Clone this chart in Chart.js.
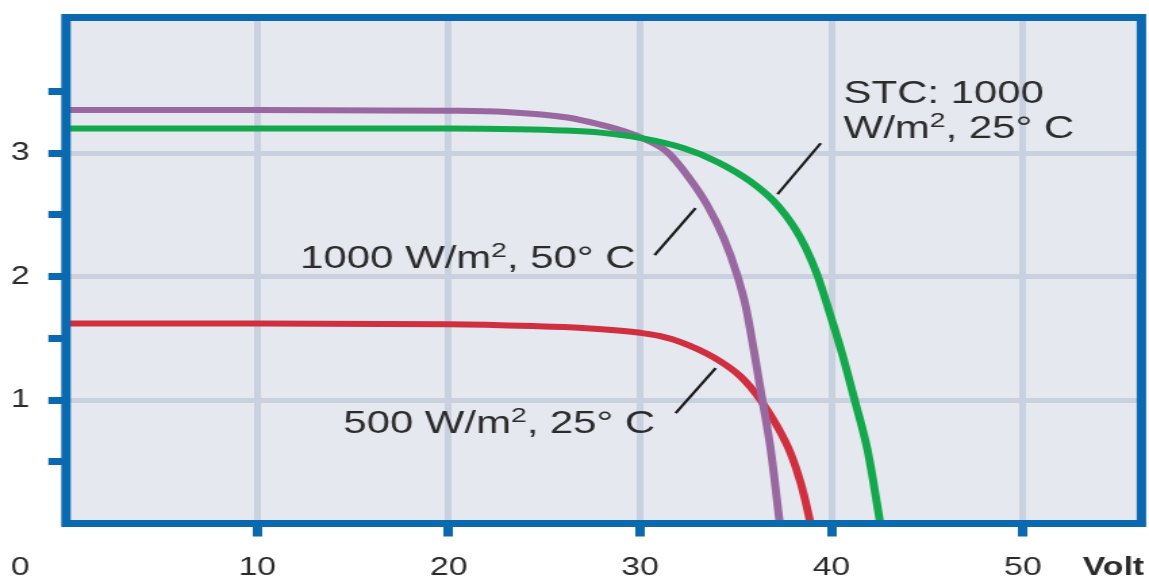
<!DOCTYPE html>
<html>
<head>
<meta charset="utf-8">
<script src="https://cdn.jsdelivr.net/npm/chart.js@4.4.0/dist/chart.umd.min.js"></script>
<style>
  html, body { margin: 0; padding: 0; background: #fff; }
  /* the source picture is stretched sideways, so the canvas is drawn narrow and stretched by css */
  #iv { display: block; width: 1149px; height: 577px; }
</style>
</head>
<body>
<canvas id="iv" width="850" height="577" style="width:1149px;height:577px"></canvas>
<script>
// voltage (V) and current (A)
var stcV  = [0, 10, 20, 23.6, 26, 27.93, 30, 32.29, 34.04, 35.78, 37.18, 38.4, 39.27, 39.9, 40.55, 41.18, 41.88, 42.2, 42.55];
var stcI  = [3.2, 3.2, 3.2, 3.195, 3.185, 3.167, 3.124, 3.04, 2.93, 2.77, 2.58, 2.31, 2.01, 1.71, 1.38, 1.02, 0.6, 0.33, 0];
var hotV  = [0, 10, 20, 23, 26.2, 27.93, 29, 30, 31.42, 32.47, 33.51, 34.38, 35.08, 35.52, 35.95, 36.39, 36.83, 37.3];
var hotI  = [3.35, 3.35, 3.345, 3.335, 3.29, 3.232, 3.186, 3.13, 3.01, 2.82, 2.58, 2.31, 2.01, 1.76, 1.4, 1.0, 0.595, 0];
var halfV = [0, 10, 20, 24.4, 27, 29, 30, 31, 32.12, 33.86, 35.26, 36.3, 37.18, 37.87, 38.4, 38.83, 38.9];
var halfI = [1.62, 1.62, 1.615, 1.6, 1.585, 1.562, 1.545, 1.52, 1.47, 1.345, 1.19, 1.0, 0.784, 0.568, 0.326, 0.055, 0];

var xTicks = [10, 20, 30, 40, 50];
var yTicks = [0.5, 1, 1.5, 2, 2.5, 3, 3.5];
var xLabelOrigin = '0';
var xUnit = 'Volt';

var blue = '#0b69b0';
var plotBg = '#e5e8ef';
var gridCol = '#c9d1df';
var textCol = '#2b2b2b';
var font = "'Liberation Sans', Arial, Helvetica, sans-serif";

function pts(v, i) {
  return v.map(function (x, k) { return {x: x, y: i[k]}; });
}

// callout texts, placed in data units; sup = superscript
var notes = [
  {x: 40.64, y: 3.405, parts: [{t: 'STC: 1000'}]},
  {x: 40.64, y: 3.12, parts: [{t: 'W/m'}, {t: '2', sup: true}, {t: ', 25° C'}]},
  {x: 12.24, y: 2.069, parts: [{t: '1000 W/m'}, {t: '2', sup: true}, {t: ', 50° C'}]},
  {x: 14.49, y: 0.733, parts: [{t: '500 W/m'}, {t: '2', sup: true}, {t: ', 25° C'}]}
];
var leaders = [
  [39.44, 3.081, 37.18, 2.668],
  [32.9, 2.555, 30.76, 2.174],
  [33.95, 1.259, 31.86, 0.895]
];

function drawRich(ctx, parts, x, y) {
  var cx = x;
  parts.forEach(function (p) {
    if (p.sup) {
      ctx.font = '21px ' + font;
      ctx.fillText(p.t, cx, y - 11);
    } else {
      ctx.font = '31px ' + font;
      ctx.fillText(p.t, cx, y);
    }
    cx += ctx.measureText(p.t).width;
  });
}

var framePlugin = {
  id: 'frame',
  beforeDraw: function (chart) {
    var ctx = chart.ctx, a = chart.chartArea;
    ctx.save();
    ctx.fillStyle = '#fff';
    ctx.fillRect(0, 0, chart.width, chart.height);
    ctx.fillStyle = plotBg;
    ctx.fillRect(a.left, a.top, a.right - a.left, a.bottom - a.top);
    ctx.restore();
  },
  afterDatasetsDraw: function (chart) {
    var ctx = chart.ctx, a = chart.chartArea;
    ctx.save();
    ctx.strokeStyle = blue;
    ctx.lineWidth = 7;
    ctx.strokeRect(a.left, a.top, a.right - a.left, a.bottom - a.top);
    ctx.restore();
  },
  afterDraw: function (chart) {
    var ctx = chart.ctx, xs = chart.scales.x, ys = chart.scales.y;
    ctx.save();
    ctx.fillStyle = textCol;
    ctx.textBaseline = 'alphabetic';
    ctx.textAlign = 'left';
    notes.forEach(function (n) {
      drawRich(ctx, n.parts, xs.getPixelForValue(n.x), ys.getPixelForValue(n.y));
    });
    ctx.strokeStyle = '#1a1a1a';
    ctx.lineWidth = 2.2;
    leaders.forEach(function (l) {
      ctx.beginPath();
      ctx.moveTo(xs.getPixelForValue(l[0]), ys.getPixelForValue(l[1]));
      ctx.lineTo(xs.getPixelForValue(l[2]), ys.getPixelForValue(l[3]));
      ctx.stroke();
    });
    // origin label and unit on the tick label row
    ctx.font = '25px ' + font;
    ctx.textAlign = 'center';
    ctx.fillText(xLabelOrigin, 15, 575);
    ctx.font = 'bold 25px ' + font;
    ctx.textAlign = 'right';
    ctx.fillText(xUnit, chart.chartArea.right + 2, 575);
    ctx.restore();
  }
};

function noPad(s) {
  s.paddingTop = 0; s.paddingBottom = 0; s.paddingLeft = 0; s.paddingRight = 0;
}

var ctx = document.getElementById('iv').getContext('2d');
var myChart = new Chart(ctx, {
  type: 'line',
  data: {
    datasets: [
      {label: 'STC: 1000 W/m², 25° C', data: pts(stcV, stcI), borderColor: '#13a84b'},
      {label: '1000 W/m², 50° C', data: pts(hotV, hotI), borderColor: '#9a68a0'},
      {label: '500 W/m², 25° C', data: pts(halfV, halfI), borderColor: '#cf2f3f'}
    ]
  },
  options: {
    responsive: false,
    animation: false,
    devicePixelRatio: 1,
    layout: {padding: {top: 17.5, right: 5.6, left: 0, bottom: 0}},
    elements: {
      point: {radius: 0},
      line: {borderWidth: 6, cubicInterpolationMode: 'monotone', capBezierPoints: true}
    },
    plugins: {legend: {display: false}, tooltip: {enabled: false}},
    scales: {
      x: {
        type: 'linear',
        min: 0,
        max: 56.2,
        afterBuildTicks: function (s) { s.ticks = xTicks.map(function (v) { return {value: v}; }); },
        afterFit: function (s) { s.height = 53.5; noPad(s); },
        border: {display: false},
        grid: {color: gridCol, lineWidth: 5, tickColor: blue, tickLength: 13, tickWidth: 7},
        ticks: {color: textCol, font: {family: font, size: 25}, padding: 17, maxRotation: 0, autoSkip: false}
      },
      y: {
        min: 0,
        max: 4.1,
        afterBuildTicks: function (s) { s.ticks = yTicks.map(function (v) { return {value: v}; }); },
        afterFit: function (s) { s.width = 48.8; noPad(s); },
        border: {display: false},
        grid: {
          color: function (c) { return c.tick && c.tick.value % 1 === 0 ? gridCol : 'rgba(0,0,0,0)'; },
          lineWidth: 5, tickColor: blue, tickLength: 13, tickWidth: 7
        },
        ticks: {
          color: textCol, font: {family: font, size: 25}, padding: 14, autoSkip: false,
          callback: function (v) { return v % 1 === 0 ? String(v) : ''; }
        }
      }
    }
  },
  plugins: [framePlugin]
});
</script>
</body>
</html>
